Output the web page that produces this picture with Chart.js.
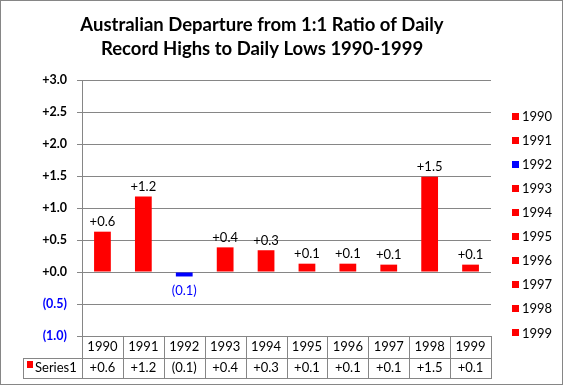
<!DOCTYPE html>
<html>
<head>
<meta charset="utf-8">
<script src="https://cdn.jsdelivr.net/npm/chart.js@4.4.0/dist/chart.umd.min.js"></script>
<style>
  html, body { margin: 0; padding: 0; background: #fff; }
  #wrap { width: 563px; height: 385px; }
</style>
</head>
<body>
<div id="wrap"><canvas id="chart" width="563" height="385"></canvas></div>
<script>
// chart data
const titleLines = ['Australian Departure from 1:1 Ratio of Daily', 'Record Highs to Daily Lows 1990-1999'];
const years = ['1990', '1991', '1992', '1993', '1994', '1995', '1996', '1997', '1998', '1999'];
const departures = [0.63, 1.18, -0.07, 0.385, 0.34, 0.13, 0.13, 0.115, 1.49, 0.115];
const seriesName = 'Series1';

const RED = '#ff0000';
const BLUE = '#0000ff';
const GRID = '#868686';
const FONT = 'Lato, "Liberation Sans", sans-serif';

function fmt(v) {
    const r = Math.round(Math.abs(v) * 10) / 10;
    return v < 0 ? `(${r.toFixed(1)})` : `+${r.toFixed(1)}`;
}
const barColor = v => v < 0 ? BLUE : RED;

// title, data labels, data table, legend, frame
const extras = {
    id: 'extras',
    afterDraw(chart) {
        const ctx = chart.ctx;
        const x = chart.scales.x;
        const area = chart.chartArea;
        ctx.save();

        // title
        ctx.fillStyle = '#000';
        ctx.font = `bold 18.5px ${FONT}`;
        ctx.textAlign = 'center';
        ctx.textBaseline = 'middle';
        ctx.fillText(titleLines[0], 262, 25);
        ctx.fillText(titleLines[1], 262, 49);

        // data labels
        ctx.font = `13px ${FONT}`;
        const meta = chart.getDatasetMeta(0);
        meta.data.forEach((bar, i) => {
            const v = departures[i];
            if (v < 0) {
                ctx.fillStyle = BLUE;
                ctx.textBaseline = 'top';
                ctx.fillText(fmt(v), bar.x, bar.y + 8);
            } else {
                ctx.fillStyle = '#000';
                ctx.textBaseline = 'bottom';
                ctx.fillText(fmt(v), bar.x, bar.y - 3);
            }
        });

        // data table
        const top = area.bottom, mid = area.bottom + 21.5, bot = area.bottom + 42;
        const left = 23;
        ctx.strokeStyle = GRID;
        ctx.lineWidth = 1;
        ctx.beginPath();
        ctx.moveTo(area.left, Math.round(top) + 0.5); ctx.lineTo(area.right, Math.round(top) + 0.5);
        ctx.moveTo(left, Math.round(mid) + 0.5); ctx.lineTo(area.right, Math.round(mid) + 0.5);
        ctx.moveTo(left, Math.round(bot) + 0.5); ctx.lineTo(area.right, Math.round(bot) + 0.5);
        ctx.moveTo(left + 0.5, Math.round(mid)); ctx.lineTo(left + 0.5, Math.round(bot) + 1);
        for (let i = 0; i <= years.length; i++) {
            const bx = Math.round(x.getPixelForValue(i - 0.5)) + 0.5;
            ctx.moveTo(bx, Math.round(top)); ctx.lineTo(bx, Math.round(bot) + 1);
        }
        ctx.stroke();

        ctx.font = `13px ${FONT}`;
        ctx.fillStyle = '#000';
        ctx.textAlign = 'center';
        ctx.textBaseline = 'middle';
        departures.forEach((v, i) => {
            ctx.fillText(fmt(v), x.getPixelForValue(i), (mid + bot) / 2 + 0.5);
        });
        ctx.fillStyle = RED;
        ctx.fillRect(27, 361, 6, 7);
        ctx.fillStyle = '#000';
        ctx.textAlign = 'left';
        ctx.fillText(seriesName, 35, (mid + bot) / 2 + 0.5);

        // legend
        years.forEach((yr, i) => {
            const cy = 116 + i * 24.1;
            ctx.fillStyle = barColor(departures[i]);
            ctx.fillRect(512, Math.round(cy - 3.5), 7, 7);
            ctx.fillStyle = '#000';
            ctx.fillText(yr, 522, cy + 0.5);
        });

        // outer frame
        ctx.strokeStyle = GRID;
        ctx.strokeRect(0.5, 0.5, chart.width - 1, chart.height - 1);
        ctx.restore();
    }
};

new Chart(document.getElementById('chart'), {
    type: 'bar',
    data: {
        labels: years,
        datasets: [{
            label: seriesName,
            data: departures,
            backgroundColor: departures.map(barColor),
            borderWidth: 0,
            categoryPercentage: 1,
            barPercentage: 0.41
        }]
    },
    options: {
        responsive: false,
        animation: false,
        events: [],
        layout: { padding: { top: 80, right: 72, bottom: 0, left: 0 } },
        plugins: {
            legend: { display: false },
            title: { display: false },
            tooltip: { enabled: false }
        },
        scales: {
            x: {
                grid: { display: false, drawTicks: false },
                border: { display: false },
                ticks: {
                    color: '#000',
                    font: { family: FONT, size: 13 },
                    padding: 3,
                    maxRotation: 0
                },
                afterFit(scale) { scale.height = 49; }
            },
            y: {
                min: -1,
                max: 3,
                grid: { color: GRID, tickLength: 5, tickColor: GRID },
                border: { color: GRID },
                ticks: {
                    stepSize: 0.5,
                    padding: 10,
                    font: { family: FONT, size: 12.5, weight: 'bold' },
                    color: c => c.tick.value < 0 ? BLUE : '#000',
                    callback: v => fmt(v)
                },
                afterFit(scale) { scale.width = 82; }
            }
        }
    },
    plugins: [extras]
});
</script>
</body>
</html>
